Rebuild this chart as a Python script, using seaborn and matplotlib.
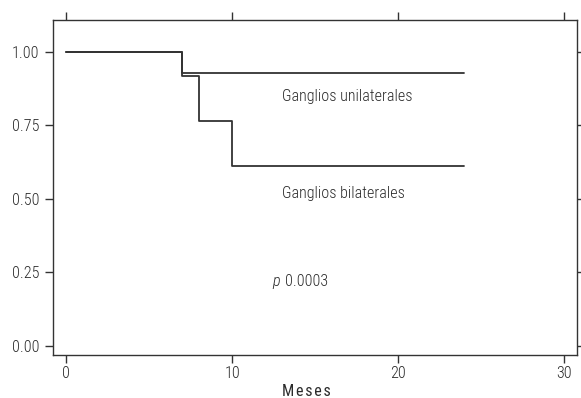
import matplotlib
matplotlib.use("Agg")
import matplotlib.pyplot as plt
from matplotlib import font_manager
import pandas as pd
import seaborn as sns

# Kaplan-Meier survival estimates by lymph node involvement
uni_months = [0, 7, 24]
uni_surv = [1.0, 0.929, 0.929]
bi_months = [0, 7, 8, 10, 24]
bi_surv = [1.0, 0.917, 0.764, 0.611, 0.611]
group_labels = ["Ganglios unilaterales", "Ganglios bilaterales"]
x_ticks = [0, 10, 20, 30]
y_ticks = [0.00, 0.25, 0.50, 0.75, 1.00]
p_value = "0.0003"

sns.set_theme(style="ticks")
available = {f.name for f in font_manager.fontManager.ttflist}
family = "Roboto"
for cand in ["Roboto Condensed", "Liberation Sans Narrow", "Open Sans Condensed"]:
    if cand in available:
        family = cand
        break
condensed = family != "Roboto"
fs = 11.6 if condensed else 10.2
plt.rcParams["font.family"] = [family, "DejaVu Sans"]
plt.rcParams["font.weight"] = "light"

ink = "#2b2b2b"
df = pd.concat([
    pd.DataFrame({"Meses": uni_months, "Supervivencia": uni_surv, "Grupo": group_labels[0]}),
    pd.DataFrame({"Meses": bi_months, "Supervivencia": bi_surv, "Grupo": group_labels[1]}),
])

fig = plt.figure(figsize=(5.81, 3.98), dpi=100)
ax = fig.add_axes([53 / 581, 1 - 355 / 398, 524 / 581, 335 / 398])

sns.lineplot(data=df, x="Meses", y="Supervivencia", hue="Grupo",
             palette=["#333333", "#333333"], estimator=None, drawstyle="steps-post",
             linewidth=1.3, legend=False, ax=ax)

ax.set_xlim(-0.8, 30.8)
ax.set_ylim(-0.031, 1.109)
ax.set_xticks(x_ticks)
ax.set_yticks(y_ticks)
ax.set_xticklabels([str(t) for t in x_ticks], fontsize=fs, color=ink)
ax.set_yticklabels([f"{t:.2f}" for t in y_ticks], fontsize=fs, color=ink)
ax.tick_params(axis="both", direction="out", length=6, width=1.0, color="#333333",
               top=True, right=True, labeltop=False, labelright=False)
ax.tick_params(axis="y", pad=4)
ax.tick_params(axis="x", pad=2)
for s in ax.spines.values():
    s.set_visible(True)
    s.set_color("#333333")
    s.set_linewidth(1.0)

ax.set_xlabel("M e s e s".replace(" ", "\u200a"), fontsize=fs, color=ink)
ax.xaxis.set_label_coords(0.483, -0.087)
ax.set_ylabel("")

ax.text(13, 0.85, group_labels[0], fontsize=fs, color=ink, va="center")
ax.text(13, 0.52, group_labels[1], fontsize=fs, color=ink, va="center")
ax.text(12.45, 0.219, "p", fontsize=fs, color=ink, style="italic", va="center")
ax.text(13.2, 0.219, p_value, fontsize=fs, color=ink, va="center")

fig.savefig("out.png", dpi=100, facecolor="white")
